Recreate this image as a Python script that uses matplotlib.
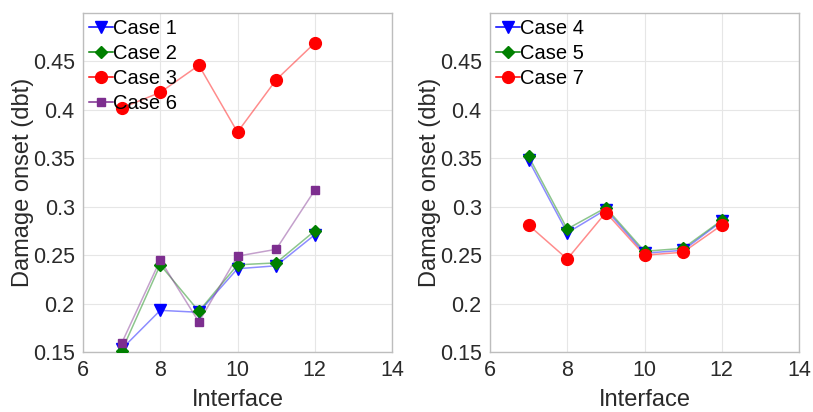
import matplotlib
matplotlib.use("Agg")
import matplotlib.pyplot as plt

plt.rcParams['font.family'] = ['Liberation Sans', 'DejaVu Sans']

interfaces = [7, 8, 9, 10, 11, 12]

case1 = [0.153, 0.193, 0.191, 0.236, 0.239, 0.271]
case2 = [0.151, 0.240, 0.192, 0.240, 0.242, 0.275]
case3 = [0.402, 0.418, 0.446, 0.377, 0.431, 0.469]
case6 = [0.159, 0.245, 0.181, 0.249, 0.256, 0.317]

case4 = [0.348, 0.273, 0.297, 0.252, 0.255, 0.285]
case5 = [0.352, 0.277, 0.299, 0.254, 0.257, 0.286]
case7 = [0.281, 0.246, 0.294, 0.250, 0.253, 0.281]

xticks = [6, 8, 10, 12, 14]
yticks = [0.15, 0.2, 0.25, 0.3, 0.35, 0.4, 0.45]
ytick_labels = ['0.15', '0.2', '0.25', '0.3', '0.35', '0.4', '0.45']

BLUE = (0, 0, 1)
GREEN = (0, 0.5, 0)
RED = (1, 0, 0)
PURPLE = (0.49, 0.18, 0.56)
TXT = '#2a2a2a'

fig = plt.figure(figsize=(8.13, 4.12), dpi=100)
ax1 = fig.add_axes([83/813, 1 - 352/412, (392-83)/813, (352-13)/412])
ax2 = fig.add_axes([490/813, 1 - 352/412, (799-490)/813, (352-13)/412])

def series(ax, y, color, marker, ms, label):
    ax.plot(interfaces, y, color=color, alpha=0.45, lw=1.1, zorder=2)
    ax.plot(interfaces, y, linestyle='none', marker=marker, color=color,
            markersize=ms, zorder=3)
    ax.plot([], [], color=color, marker=marker, markersize=ms, lw=1.1,
            label=label)

series(ax1, case1, BLUE, 'v', 8, 'Case 1')
series(ax1, case2, GREEN, 'D', 6.5, 'Case 2')
series(ax1, case3, RED, 'o', 8.5, 'Case 3')
series(ax1, case6, PURPLE, 's', 5.5, 'Case 6')

series(ax2, case4, BLUE, 'v', 8, 'Case 4')
series(ax2, case5, GREEN, 'D', 6.5, 'Case 5')
series(ax2, case7, RED, 'o', 8.5, 'Case 7')

for ax in (ax1, ax2):
    ax.set_xlim(6, 14)
    ax.set_ylim(0.15, 0.5)
    ax.set_xticks(xticks)
    ax.set_yticks(yticks)
    ax.set_yticklabels(ytick_labels)
    ax.tick_params(labelsize=15.5, length=0, pad=6, colors=TXT)
    ax.grid(True, color='#e6e6e6', lw=0.8)
    ax.set_axisbelow(True)
    for s in ax.spines.values():
        s.set_color('#bdbdbd')
        s.set_linewidth(1.0)
    ax.set_xlabel('Interface', fontsize=17, color=TXT)
    ax.xaxis.set_label_coords(0.5, -0.11)
    ax.set_ylabel('Damage onset (dbt)', fontsize=17, color=TXT)
    ax.yaxis.set_label_coords(-0.158, 0.5)
    leg = ax.legend(loc='upper left', fontsize=14.5, frameon=False,
                    handlelength=1.2, handletextpad=0.0, labelspacing=0.3,
                    borderaxespad=0.15, borderpad=0.15)

fig.savefig('out.png', dpi=100)
